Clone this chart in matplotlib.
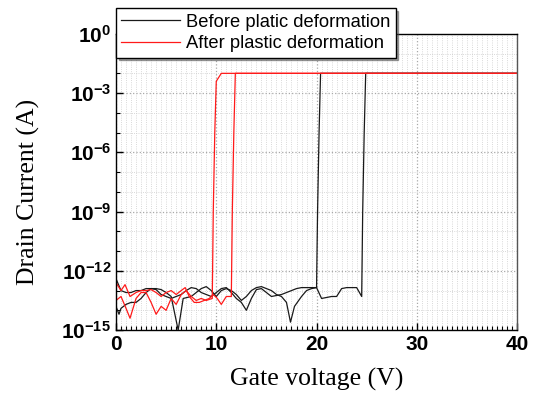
import matplotlib.pyplot as plt
import numpy as np
from matplotlib.ticker import FixedLocator, NullFormatter

plt.rcParams['font.family'] = ['Liberation Sans', 'DejaVu Sans']
plt.rcParams['mathtext.fontset'] = 'custom'
plt.rcParams['mathtext.rm'] = 'Liberation Sans'
plt.rcParams['mathtext.bf'] = 'Liberation Sans:bold'

# Before plastic deformation, forward sweep (0 -> 40 V), log10 of drain current
before_fwd_v = [0, 0.5, 1.0, 1.5, 2.0, 2.5, 3.0, 3.5, 4.0, 4.5, 5.0, 5.5, 6.0, 6.5, 7.0, 7.5,
                8.0, 8.5, 9.0, 9.5, 10.0, 10.5, 11.0, 11.5, 12.0, 12.5, 13.0, 13.5, 14.0, 14.5,
                15.0, 15.5, 16.0, 16.5, 17.0, 17.5, 18.0, 18.5, 19.0, 19.5, 20.0, 20.5, 21.0,
                21.5, 22.0, 22.5, 23.0, 23.5, 24.0, 24.5, 24.6, 24.75, 24.9, 40.0]
before_fwd_log = [-12.4, -13.0, -13.1, -13.1, -13.0, -13.0, -12.9, -12.9, -12.95, -13.2, -13.3,
                  -13.4, -13.3, -13.2, -13.0, -12.85, -12.9, -13.1, -13.2, -13.3, -13.1, -12.9,
                  -12.85, -13.1, -13.4, -13.6, -14.0, -13.4, -12.95, -12.9, -13.1, -13.3, -13.25,
                  -13.2, -13.1, -13.0, -12.9, -12.85, -12.85, -12.85, -12.85, -13.4, -13.35,
                  -13.3, -13.3, -12.9, -12.85, -12.85, -12.85, -13.3, -9.0, -5.0, -2.0, -2.0]

# Before plastic deformation, reverse sweep (40 -> 0 V), listed by increasing voltage
before_rev_v = [0, 0.3, 0.5, 1.0, 1.5, 2.0, 2.5, 3.0, 3.5, 4.0, 4.5, 5.0, 5.5, 6.2, 6.7, 7.5,
                8.0, 8.5, 9.0, 9.5, 10.0, 10.5, 11.0, 11.5, 12.0, 12.5, 13.0, 13.5, 14.0, 14.5,
                15.0, 15.5, 16.0, 16.5, 17.0, 17.4, 17.8, 18.5, 19.0, 19.5, 20.0, 20.1, 20.25,
                20.4, 40.0]
before_rev_log = [-13.8, -14.2, -13.9, -13.7, -13.6, -13.6, -13.4, -13.1, -12.9, -12.9, -12.95,
                  -13.1, -13.3, -15.0, -13.4, -13.3, -13.1, -12.9, -12.8, -13.0, -13.3, -13.0,
                  -12.9, -13.0, -13.2, -13.5, -13.3, -13.0, -12.85, -12.8, -12.9, -13.0, -13.2,
                  -13.3, -13.6, -14.6, -13.8, -13.3, -13.0, -12.9, -12.85, -9.0, -5.0, -2.0, -2.0]

# After plastic deformation, forward sweep
after_fwd_v = [0, 0.5, 0.9, 1.4, 2.0, 2.5, 3.0, 3.5, 4.0, 4.5, 5.0, 5.5, 6.0, 6.5, 6.9, 7.3,
               7.8, 8.3, 8.8, 9.3, 9.7, 10.1, 10.5, 11.0, 11.5, 11.6, 11.75, 11.9, 40.0]
after_fwd_log = [-12.6, -13.0, -12.7, -13.3, -13.1, -13.0, -13.0, -12.95, -13.1, -13.3, -13.1,
                 -13.0, -13.2, -13.0, -12.85, -13.3, -13.6, -13.6, -13.5, -13.4, -13.2, -13.4,
                 -13.7, -13.3, -13.3, -9.0, -5.0, -2.0, -2.0]

# After plastic deformation, reverse sweep, listed by increasing voltage
after_rev_v = [0, 0.5, 1.0, 1.4, 2.0, 2.5, 3.0, 3.5, 4.0, 4.5, 5.0, 5.5, 6.0, 6.5, 7.0, 7.5,
               8.0, 8.5, 9.0, 9.6, 9.7, 9.85, 10.0, 10.5, 40.0]
after_rev_log = [-13.5, -13.3, -13.9, -14.4, -13.4, -13.1, -13.1, -13.6, -14.2, -13.8, -14.0,
                 -13.4, -13.7, -13.2, -13.0, -13.3, -13.5, -13.4, -13.5, -13.4, -9.0, -5.0,
                 -2.4, -2.0, -2.0]

fig = plt.figure(figsize=(5.37, 4.03), dpi=100)
ax = fig.add_axes([0.216, 0.181, 0.747, 0.735])

black = '#1a1a1a'
red = '#ff1a1a'
ax.plot(before_fwd_v, 10.0 ** np.array(before_fwd_log), color=black, lw=0.9,
        label='Before platic deformation')
ax.plot(before_rev_v, 10.0 ** np.array(before_rev_log), color=black, lw=0.9)
ax.plot(after_fwd_v, 10.0 ** np.array(after_fwd_log), color=red, lw=0.9,
        label='After plastic deformation')
ax.plot(after_rev_v, 10.0 ** np.array(after_rev_log), color=red, lw=0.9)

ax.set_yscale('log')
ax.set_xlim(0, 40)
ax.set_ylim(1e-15, 1e0)

ax.set_xticks([0, 10, 20, 30, 40])
ax.set_xticks(np.arange(0, 40.5, 0.5), minor=True)
major_y = 10.0 ** np.arange(-15, 1, 3)
ax.yaxis.set_major_locator(FixedLocator(major_y))
ax.yaxis.set_minor_locator(FixedLocator(10.0 ** np.arange(-15, 1, 1)))
ax.yaxis.set_minor_formatter(NullFormatter())
ax.set_yticklabels([r'$\mathbf{10^{%d}}$' % e for e in range(-15, 1, 3)])
ax.set_xticklabels(['0', '10', '20', '30', '40'], fontweight='bold')

ax.tick_params(axis='both', which='major', direction='in', length=5, width=1,
               labelsize=15, top=False, right=False)
ax.tick_params(axis='both', which='minor', direction='in', length=3, width=0.8,
               top=False, right=False)
# minor x ticks only marked at the half-decade positions
for t in ax.xaxis.get_minor_ticks():
    if t.get_loc() % 5 != 0:
        t.tick1line.set_visible(False)

ax.grid(True, which='major', color='#a8a8a8', ls=':', lw=0.9)
ax.grid(True, which='minor', color='#cccccc', ls=':', lw=0.6)

for s in ax.spines.values():
    s.set_linewidth(1.0)
ax.spines['right'].set_color('#555555')

ax.set_xlabel('Gate voltage (V)', family='Liberation Serif', fontsize=18.5, labelpad=10)
ax.set_ylabel('Drain Current (A)', family='Liberation Serif', fontsize=18.5)
ax.yaxis.set_label_coords(-0.19, 0.465)

leg = ax.legend(loc='upper left', bbox_to_anchor=(0.216, 0.98), bbox_transform=fig.transFigure,
                fontsize=13.2, frameon=True, fancybox=False, shadow=True, edgecolor='black',
                framealpha=1, borderaxespad=0, handlelength=3.2, borderpad=0.3,
                labelspacing=0.25, handletextpad=0.3)
leg.get_frame().set_linewidth(1.0)

fig.savefig('out.png', dpi=100)
